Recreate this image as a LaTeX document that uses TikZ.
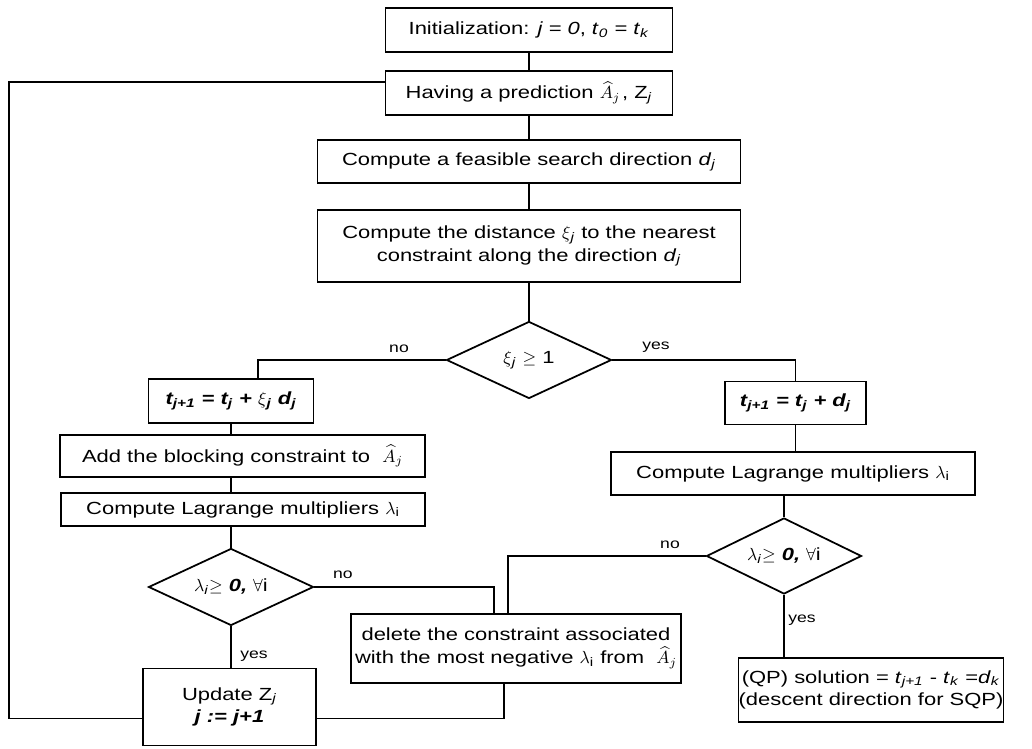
\documentclass[tikz,border=0pt]{standalone}
\usepackage{amsmath,amssymb}
\usepackage{fontspec}
\setmainfont[FakeStretch=1.25]{Liberation Sans}
\usetikzlibrary{shapes.geometric}

% italic variable with italic subscript
\newcommand{\ivar}[2]{\textit{#1}\textsubscript{\textit{#2}}}
\newcommand{\Ahat}{$\widehat{A}_{j}$}

\begin{document}
\begin{tikzpicture}[x=0.02cm, y=-0.02cm, line width=1pt,
    box/.style={draw, rectangle, inner sep=0pt, align=center, font=\fontsize{10}{13}\selectfont},
    decision/.style={draw, diamond, inner sep=0pt, shape aspect=2.1, font=\fontsize{10}{13}\selectfont},
    lbl/.style={inner sep=0pt, font=\fontsize{8}{9.5}\selectfont}]
    \useasboundingbox (0,0) rectangle (1032,749);

    % Main column
    \node[box, minimum width=5.74cm, minimum height=0.88cm] (init) at (529,30)
        {Initialization: \textit{j = 0}, \ivar{t}{0}\textit{ = }\ivar{t}{k}};
    \node[box, minimum width=5.74cm, minimum height=0.88cm] (pred) at (529,93)
        {Having a prediction \Ahat\kern1pt, Z\textsubscript{\textit{j}}};
    \node[box, minimum width=8.46cm, minimum height=0.86cm] (dir) at (529,161.5)
        {Compute a feasible search direction \ivar{d}{j}};
    \node[box, minimum width=8.46cm, minimum height=1.44cm] (dist) at (529,246)
        {Compute the distance $\xi$\textsubscript{\textit{j}} to the nearest\\
         constraint along the direction \ivar{d}{j}};
    \node[decision, minimum width=3.3cm, minimum height=1.54cm] (dec1) at (529,360)
        {$\xi$\textsubscript{\textit{j}} $\geq$ 1};

    % Left branch
    \node[box, minimum width=3.3cm, minimum height=0.88cm] (tl) at (231,401)
        {\bfseries\itshape t\textsubscript{j+1} = t\textsubscript{j} + $\xi$\textsubscript{j} d\textsubscript{j}};
    \node[box, minimum width=7.3cm, minimum height=0.84cm] (addc) at (242.5,456)
        {Add the blocking constraint to \ \Ahat};
    \node[box, minimum width=7.28cm, minimum height=0.66cm] (lagl) at (243,509.5)
        {Compute Lagrange multipliers $\lambda$\textsubscript{i}};
    \node[decision, minimum width=3.3cm, minimum height=1.54cm] (dec2) at (231,587)
        {$\lambda$\textsubscript{\textit{i}}$\geq$ \textbf{\textit{0,}} $\forall$i};
    \node[box, minimum width=3.46cm, minimum height=1.54cm] (upd) at (229.5,707)
        {Update Z\textsubscript{\textit{j}}\\ \bfseries\itshape j := j+1};
    \node[box, minimum width=6.6cm, minimum height=1.38cm] (del) at (516,648.5)
        {delete the constraint associated\\
         with the most negative $\lambda$\textsubscript{i} from \ \Ahat};

    % Right branch
    \node[box, minimum width=2.82cm, minimum height=0.86cm] (tr) at (795.5,403)
        {\bfseries\itshape t\textsubscript{j+1} = t\textsubscript{j} + d\textsubscript{j}};
    \node[box, minimum width=7.28cm, minimum height=0.86cm] (lagr) at (793,473.5)
        {Compute Lagrange multipliers $\lambda$\textsubscript{i}};
    \node[decision, minimum width=3.1cm, minimum height=1.52cm] (dec3) at (784,556)
        {$\lambda$\textsubscript{\textit{i}}$\geq$ \textbf{\textit{0,}} $\forall$i};
    \node[box, minimum width=5.24cm, minimum height=1.28cm] (qp) at (871,690)
        {(QP) solution = \ivar{t}{j+1} - \ivar{t}{k} =\ivar{d}{k}\\
         (descent direction for SQP)};

    % Labels
    \node[lbl] (no1) at (399,349) {no};
    \node[lbl] (yes1) at (656,347) {yes};
    \node[lbl] (no2) at (343,575) {no};
    \node[lbl] (yes2) at (254,656) {yes};
    \node[lbl] (no3) at (670,545) {no};
    \node[lbl] (yes3) at (802,620) {yes};

    % Connections
    \draw (init) -- (pred);
    \draw (pred) -- (dir);
    \draw (dir) -- (dist);
    \draw (dist) -- (dec1);
    \draw (dec1.west) -| ([xshift=0.54cm]tl.north);
    \draw (dec1.east) -| (tr.north);
    \draw (tl.south) -- (tl.south |- addc.north);
    \draw (addc.south -| tl.south) -- (lagl.north -| tl.south);
    \draw (lagl.south -| dec2.north) -- (dec2.north);
    \draw (dec2.south) -- (dec2.south |- upd.north);
    \draw (dec2.east) -| ([xshift=-0.44cm]del.north);
    \draw (tr.south) -- (tr.south |- lagr.north);
    \draw (lagr.south -| dec3.north) -- (dec3.north);
    \draw (dec3.south) -- (dec3.south |- qp.north);
    \draw (dec3.west) -| ([xshift=-0.16cm]del.north);
    \draw ([xshift=-0.24cm]del.south) |- ([yshift=-0.23cm]upd.east);
    \draw ([yshift=-0.23cm]upd.west) -- ++(-133,0) |- ([yshift=0.22cm]pred.west);
\end{tikzpicture}
\end{document}
